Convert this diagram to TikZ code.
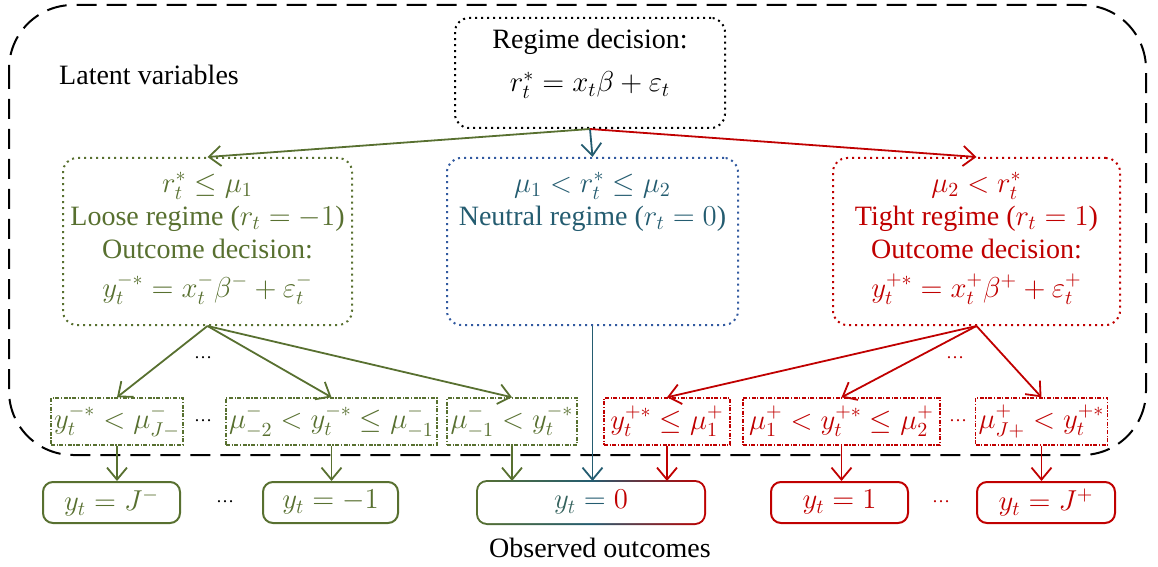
\documentclass[tikz,border=0pt]{standalone}
\usepackage{amsmath}
\usepackage{amssymb}
\usepackage{fontspec}
\setmainfont{Liberation Serif}
\DeclareMathSizes{14}{14.4}{10}{7}
\usepackage{tikz}
\usetikzlibrary{arrows.meta, positioning, backgrounds}
\definecolor{loosegreen}{RGB}{88,112,48}
\definecolor{tightred}{RGB}{192,0,0}
\definecolor{neutralteal}{RGB}{36,92,112}
\definecolor{neutralblue}{RGB}{50,90,160}

\begin{document}
\begin{tikzpicture}[x=0.5pt, y=-0.5pt, >=Stealth,
    font=\fontsize{14}{16.5}\selectfont,
    declbox/.style={draw, dotted, line width=1pt, rounded corners=7pt, align=center, inner sep=2pt},
    cutbox/.style={draw, line width=0.7pt, dash pattern=on 2pt off 0.8pt on 0.6pt off 0.8pt, minimum height=23.5pt, inner sep=1.5pt},
    outbox/.style={draw, line width=1pt, rounded corners=5pt, minimum height=20.5pt, inner sep=1pt},
    arr/.style={-{Straight Barb[length=6pt, width=10pt]}, line width=0.9pt}]
    \useasboundingbox (0,0) rectangle (1158,567);

    % Latent area
    \draw[dash pattern=on 10pt off 5pt, line width=1pt, rounded corners=32pt] (9,5) rectangle (1146,455);
    \node (latent) at (149,75) {Latent variables};

    % Regime decision
    \node[declbox, draw=black, minimum width=135pt, minimum height=55pt] (regime) at (590,73)
        {Regime decision:\\[5pt] $r_t^* = x_t\beta + \varepsilon_t$\\[-4pt]};

    % Three regimes
    \node[declbox, draw=loosegreen, text=loosegreen, minimum width=144.5pt, minimum height=83.5pt] (loose) at (207.5,241.5)
        {$r_t^* \le \mu_1$\\ Loose regime ($r_t = -1$)\\ Outcome decision:\\[3pt] $y_t^{-*} = x_t^{-}\beta^{-} + \varepsilon_t^{-}$\\[-10pt]};
    \node[declbox, draw=neutralblue, text=neutralteal, minimum width=145.5pt, minimum height=83.5pt] (neutral) at (592.5,241.5)
        {$\mu_1 < r_t^* \le \mu_2$\\ Neutral regime ($r_t = 0$)\\ \phantom{Outcome decision:}\\[3pt] $\phantom{y_t^{-*} = x_t^{-}\beta^{-}}$\\[-10pt]};
    \node[declbox, draw=tightred, text=tightred, minimum width=143.5pt, minimum height=83.5pt] (tight) at (976.5,241.5)
        {$\mu_2 < r_t^*$\\ Tight regime ($r_t = 1$)\\ Outcome decision:\\[3pt] $y_t^{+*} = x_t^{+}\beta^{+} + \varepsilon_t^{+}$\\[-10pt]};

    \draw[arr, loosegreen] (regime.south) -- (loose.north);
    \draw[arr, neutralteal] (regime.south) -- (neutral.north);
    \draw[arr, tightred] (regime.south) -- (tight.north);

    % Thresholds, loose side
    \node[cutbox, draw=loosegreen, text=loosegreen, minimum width=65pt] (lowJ) at (117,421.5) {$y_t^{-*} < \mu_{J-}^{-}$};
    \node[cutbox, draw=loosegreen, text=loosegreen, minimum width=105.5pt] (lowtwo) at (331.5,421.5) {$\mu_{-2}^{-} < y_t^{-*} \le \mu_{-1}^{-}$};
    \node[cutbox, draw=loosegreen, text=loosegreen, minimum width=65pt] (lowone) at (512,421.5) {$\mu_{-1}^{-} < y_t^{-*}$};
    \node (ldotsa) at (203,358) {\small\dots};
    \node (ldotsb) at (203,421) {\small\dots};

    \draw[arr, loosegreen] (loose.south) -- (lowJ.north);
    \draw[arr, loosegreen] (loose.south) -- (lowtwo.north);
    \draw[arr, loosegreen] (loose.south) -- (lowone.north);

    % Thresholds, tight side
    \node[cutbox, draw=tightred, text=tightred, minimum width=63pt] (highone) at (667,421.5) {$y_t^{+*} \le \mu_1^{+}$};
    \node[cutbox, draw=tightred, text=tightred, minimum width=98.5pt] (hightwo) at (841.5,421.5) {$\mu_1^{+} < y_t^{+*} \le \mu_2^{+}$};
    \node[cutbox, draw=tightred, text=tightred, minimum width=64.5pt] (highJ) at (1041.5,421.5) {$\mu_{J+}^{+} < y_t^{+*}$};
    \node[text=tightred] (rdotsa) at (955,358) {\small\dots};
    \node[text=tightred] (rdotsb) at (958,421) {\small\dots};

    \draw[arr, tightred] (tight.south) -- (highone.north);
    \draw[arr, tightred] (tight.south) -- (hightwo.north);
    \draw[arr, tightred] (tight.south) -- (highJ.north);

    % Observed outcomes
    \node[outbox, draw=loosegreen, text=loosegreen, minimum width=68.5pt] (outJm) at (111.5,502.5) {$y_t = J^{-}$};
    \node[outbox, draw=loosegreen, text=loosegreen, minimum width=67.5pt] (outmone) at (330.5,502.5) {$y_t = -1$};
    \node[outbox, draw=none, minimum width=113pt] (outzero) at (591,502.5)
        {$\textcolor{neutralteal!70!loosegreen}{y_t} \mathrel{\textcolor{neutralteal}{=}} \textcolor{tightred}{0}$};
    \node[outbox, draw=tightred, text=tightred, minimum width=68.5pt] (outone) at (839.5,502.5) {$y_t = 1$};
    \node[outbox, draw=tightred, text=tightred, minimum width=69pt] (outJp) at (1046,502.5) {$y_t = J^{+}$};
    \node (odotsa) at (225,502) {\small\dots};
    \node[text=tightred] (odotsb) at (941,502) {\small\dots};
    \node (observed) at (600,548) {Observed outcomes};

    \begin{scope}[on background layer]
        \shade[rounded corners=5.5pt, left color=loosegreen, right color=tightred, middle color=neutralteal]
            ([xshift=-0.5pt, yshift=-0.5pt]outzero.south west) rectangle ([xshift=0.5pt, yshift=0.5pt]outzero.north east);
        \fill[white, rounded corners=4.5pt]
            ([xshift=0.5pt, yshift=0.5pt]outzero.south west) rectangle ([xshift=-0.5pt, yshift=-0.5pt]outzero.north east);
    \end{scope}

    \draw[arr, loosegreen] (lowJ.south) -- (lowJ.south |- outJm.north);
    \draw[arr, loosegreen] (lowtwo.south) -- (lowtwo.south |- outmone.north);
    \draw[arr, loosegreen] (lowone.south) -- (lowone.south |- outzero.north);
    \draw[arr, neutralteal] (neutral.south) -- (neutral.south |- outzero.north);
    \draw[arr, tightred] (highone.south) -- (highone.south |- outzero.north);
    \draw[arr, tightred] (hightwo.south) -- (hightwo.south |- outone.north);
    \draw[arr, tightred] (highJ.south) -- (highJ.south |- outJp.north);
\end{tikzpicture}
\end{document}
